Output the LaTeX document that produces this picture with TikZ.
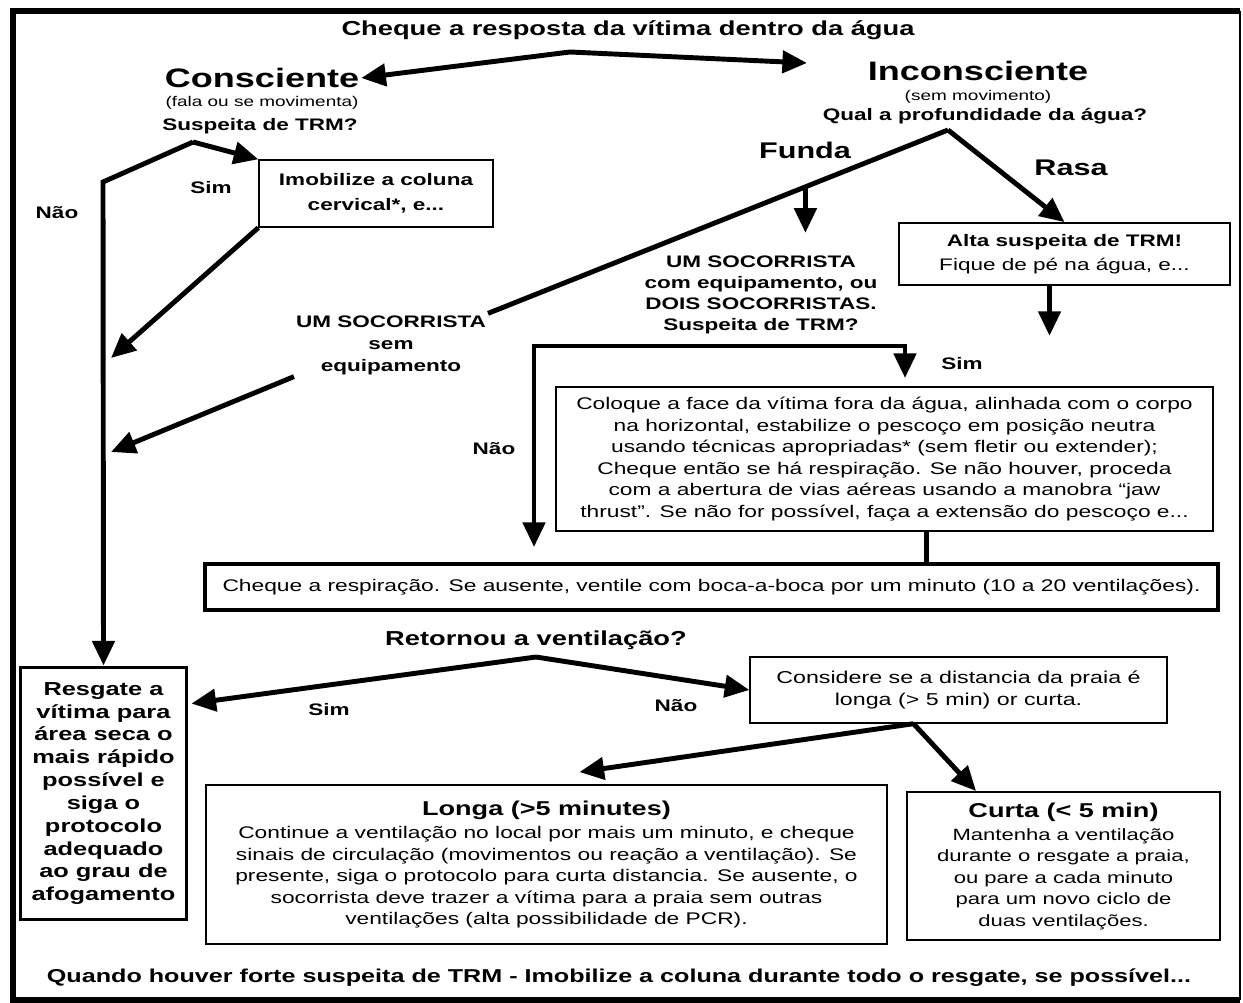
\documentclass[tikz,border=0pt]{standalone}
\usepackage{fontspec}
\setmainfont[FakeStretch=1.35]{Liberation Sans}
\usetikzlibrary{arrows.meta,positioning,calc}

\tikzset{
  link/.style={line width=2.8pt},
  arr/.style={link, -{Triangle[length=14pt,width=12.5pt]}},
  box/.style={draw, inner sep=0pt, align=center, font=\fontsize{9.6}{12.2}\selectfont},
  lbl/.style={font=\bfseries\fontsize{9.5}{12.1}\selectfont, align=center, inner sep=1pt},
  big/.style={font=\bfseries\fontsize{15.2}{18}\selectfont, inner sep=1pt},
  mid/.style={font=\bfseries\fontsize{11.5}{14}\selectfont, inner sep=1pt},
  small/.style={font=\fontsize{8}{10}\selectfont, inner sep=1pt},
}

\begin{document}
\begin{tikzpicture}[x=0.02cm, y=-0.02cm]
\useasboundingbox (0,0) rectangle (1243,1003);
% outer frame
\draw[line width=3.2pt] (1240,11) -- (13,11) -- (13,1000) -- (1240,1000);
\draw[line width=1.2pt] (1240,11) -- (1240,1000);

% top: response of the victim
\node[mid] (title) at (628,30) {Cheque a resposta da vítima dentro da água};
\node[big] (consc) at (262,78) {Consciente};
\node[small] (fala) at (262,103) {(fala ou se movimenta)};
\node[lbl] (susp1) at (260,126) {Suspeita de TRM?};
\node[big] (incons) at (978,71) {Inconsciente};
\node[small] (semmov) at (978,97) {(sem movimento)};
\node[lbl] (qual) at (985,116) {Qual a profundidade da água?};

\coordinate (top) at (570,52);
\coordinate (incTip) at (807,63);
\draw[arr] (top) -- (consc.east);
\draw[arr] (top) -- (incTip);

% conscious branch
\node[box, font=\bfseries\fontsize{9.5}{14.2}\selectfont, line width=0.8pt,
  minimum width=4.68cm, minimum height=1.34cm] (imob) at (376,193.5) {Imobilize a coluna\\cervical*, e...};
\node[lbl] (sim1) at (211,188) {Sim};
\node[lbl] (nao1) at (57,213) {Não};
\node[box, font=\bfseries\fontsize{10.7}{13}\selectfont, line width=1.7pt,
  minimum width=3.34cm, minimum height=5.06cm] (resg) at (103.5,793.5)
  {Resgate a\\vítima para\\área seca o\\mais rápido\\possível e\\siga o\\protocolo\\adequado\\ao grau de\\afogamento};

\coordinate (cq) at (193,142);
\coordinate (j1) at (111,358);
\draw[arr] (cq) -- (imob.north west);
\draw[arr] (cq) -- ++(-90,40) -- (resg.north);
\draw[arr] (imob.south west) -- (j1);

% unconscious branch
\node[font=\bfseries\fontsize{12.9}{15}\selectfont] (funda) at (805,150) {Funda};
\node[font=\bfseries\fontsize{12.9}{15}\selectfont] (rasa) at (1071,168) {Rasa};
\node[box, line width=1pt, font=\fontsize{9.5}{13.6}\selectfont,
  minimum width=6.62cm, minimum height=1.24cm] (alta) at (1064.5,254)
  {\textbf{Alta suspeita de TRM!}\\Fique de pé na água, e...};
\node[lbl, font=\bfseries\fontsize{9.5}{12.5}\selectfont] (sem) at (391,345) {UM SOCORRISTA\\sem\\equipamento};
\node[lbl] (com) at (761,295) {UM SOCORRISTA\\com equipamento, ou\\DOIS SOCORRISTAS.\\Suspeita de TRM?};

\coordinate (iq) at (948,130);
\coordinate (j2) at (111,452);
\draw[arr] (iq) -- (alta.north);
\draw[link] (iq) -- (sem.north east);
\coordinate (fd) at ($(iq)!0.31!(sem.north east)$);
\draw[arr] (fd) -- ++(0,46);
\draw[arr] (sem.south west) -- (j2);
\draw[arr] ($(alta.south)+(-15,0)$) -- ++(0,50);

\node[lbl] (sim2) at (962,364) {Sim};
\node[lbl] (nao2) at (494,449) {Não};
\node[box, line width=1pt, font=\fontsize{9.6}{12.2}\selectfont,
  minimum width=13.14cm, minimum height=2.88cm] (colq) at (884.5,459)
  {Coloque a face da vítima fora da água, alinhada com o corpo\\
   na horizontal, estabilize o pescoço em posição neutra\\
   usando técnicas apropriadas* (sem fletir ou extender);\\
   Cheque então se há respiração. Se não houver, proceda\\
   com a abertura de vias aéreas usando a manobra “jaw\\
   thrust”. Se não for possível, faça a extensão do pescoço e...};

\coordinate (split) at (761,346);
\coordinate (naoTip) at (534,547);
\coordinate (simTip) at (905,378);
\draw[arr] (split) -| (naoTip);
\draw[arr] (split) -| (simTip);

% breathing check
\node[box, line width=2.3pt, minimum width=20.26cm, minimum height=0.92cm] (chk) at (711.5,587)
  {Cheque a respiração. Se ausente, ventile com boca-a-boca por um minuto (10 a 20 ventilações).};
\draw[link] ($(colq.south)+(42,0)$) -- ($(colq.south)+(42,33)$);

% ventilation returned?
\node[mid] (ret) at (536,640) {Retornou a ventilação?};
\node[lbl] (sim3) at (329,710) {Sim};
\node[lbl] (nao3) at (676,706) {Não};
\node[box, line width=0.8pt, font=\fontsize{9.8}{12.5}\selectfont,
  minimum width=8.34cm, minimum height=1.32cm] (cons) at (958.5,690)
  {Considere se a distancia da praia é\\longa (> 5 min) or curta.};

\coordinate (rq) at (536,657);
\draw[arr] (rq) -- ($(resg.north east)+(3,38)$);
\draw[arr] (rq) -- (cons.west);

% long / short distance
\node[box, line width=1.1pt, minimum width=13.62cm, minimum height=3.18cm] (longa) at (546.5,864.5)
  {{\bfseries\fontsize{11.4}{13.6}\selectfont Longa (>5 minutes)}\\[1pt]
   Continue a ventilação no local por mais um minuto, e cheque\\
   sinais de circulação (movimentos ou reação a ventilação). Se\\
   presente, siga o protocolo para curta distancia. Se ausente, o\\
   socorrista deve trazer a vítima para a praia sem outras\\
   ventilações (alta possibilidade de PCR).};
\node[box, line width=1.1pt, font=\fontsize{9.3}{12.2}\selectfont,
  minimum width=6.26cm, minimum height=2.96cm] (curta) at (1063.5,866)
  {{\bfseries\fontsize{11.4}{13.6}\selectfont Curta (< 5 min)}\\[1pt]
   Mantenha a ventilação\\
   durante o resgate a praia,\\
   ou pare a cada minuto\\
   para um novo ciclo de\\
   duas ventilações.};

\coordinate (cq2) at ($(cons.south)+(-45,0)$);
\draw[arr] (cq2) -- ($(longa.north)+(33,-12)$);
\draw[arr] (cq2) -- ($(curta.north west)+(70,0)$);

\node[lbl, font=\bfseries\fontsize{10.6}{13}\selectfont] (note) at (619,978) {Quando houver forte suspeita de TRM - Imobilize a coluna durante todo o resgate, se possível...};
\end{tikzpicture}
\end{document}
